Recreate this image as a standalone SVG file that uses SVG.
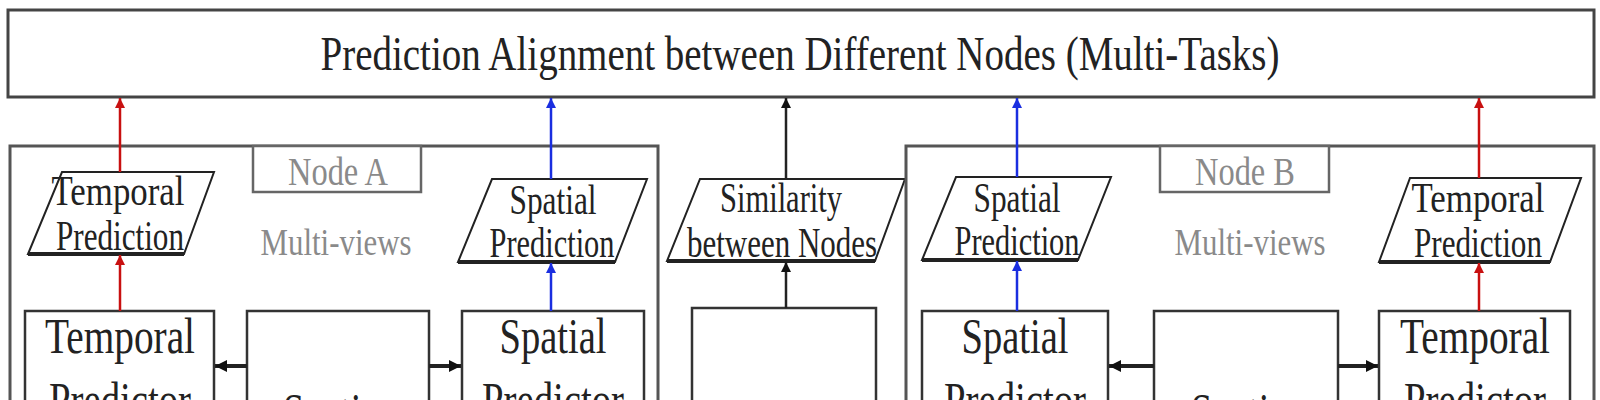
<svg xmlns="http://www.w3.org/2000/svg" width="1600" height="400" viewBox="0 0 1600 400">
<style>
text{font-family:"Liberation Serif","Times New Roman",serif;fill:#222}
.box{fill:#fff;stroke:#333;stroke-width:2.5}
.cont{fill:#fff;stroke:#555;stroke-width:3}
.lbl{fill:#fff;stroke:#666;stroke-width:2.5}
.para{fill:#fff;stroke:#222;stroke-width:2}
.gray{fill:#8a8a8a}
.big{font-size:50px}
.mid{font-size:42px}
.red{stroke:#c81010;stroke-width:2.5;fill:none}
.blue{stroke:#1a2ee0;stroke-width:2.5;fill:none}
.blk{stroke:#222;stroke-width:2.5;fill:none}
.blkt{stroke:#222;stroke-width:4;fill:none}
</style>
<defs>
<marker id="ar" viewBox="0 0 10 10" refX="10" refY="5" markerWidth="4" markerHeight="5" orient="auto" markerUnits="strokeWidth"><path d="M0,0L10,5L0,10z" fill="#c81010"/></marker>
<marker id="ab" viewBox="0 0 10 10" refX="10" refY="5" markerWidth="4" markerHeight="5" orient="auto" markerUnits="strokeWidth"><path d="M0,0L10,5L0,10z" fill="#1a2ee0"/></marker>
<marker id="ak" viewBox="0 0 10 10" refX="10" refY="5" markerWidth="4" markerHeight="5" orient="auto" markerUnits="strokeWidth"><path d="M0,0L10,5L0,10z" fill="#111"/></marker>
<marker id="akt" viewBox="0 0 10 10" refX="10" refY="5" markerWidth="3" markerHeight="4" orient="auto" markerUnits="strokeWidth"><path d="M0,0L10,5L0,10z" fill="#111"/></marker>
</defs>
<rect width="1600" height="400" fill="#fff"/>

<g id="top">
<rect class="box" x="8" y="10" width="1586" height="87" style="stroke:#444;stroke-width:3"/>
<text x="800" y="70" font-size="48" text-anchor="middle" textLength="959" lengthAdjust="spacingAndGlyphs">Prediction Alignment between Different Nodes (Multi-Tasks)</text>
</g>

<g id="nodeA">
<rect class="cont" x="10" y="146" width="648" height="270"/>
<rect class="lbl" x="253" y="146" width="168" height="46"/>
<text class="gray" x="338" y="185" font-size="40" text-anchor="middle" textLength="100" lengthAdjust="spacingAndGlyphs">Node A</text>
<text class="gray" x="336" y="255" font-size="38" text-anchor="middle" textLength="151" lengthAdjust="spacingAndGlyphs">Multi-views</text>
</g>

<g id="tempPredA">
<polygon class="para" points="62,172 214,172 184,254 28,254"/>
<path d="M28,254H184" stroke="#222" stroke-width="4"/>
<text class="mid" x="118" y="205" text-anchor="middle" textLength="133" lengthAdjust="spacingAndGlyphs">Temporal</text>
<text class="mid" x="120" y="250" text-anchor="middle" textLength="128" lengthAdjust="spacingAndGlyphs">Prediction</text>
</g>

<g id="spatPredA">
<polygon class="para" points="492,179 647,179 615,262 458,262"/>
<path d="M458,262H615" stroke="#222" stroke-width="4"/>
<text class="mid" x="553" y="214" text-anchor="middle" textLength="87" lengthAdjust="spacingAndGlyphs">Spatial</text>
<text class="mid" x="552" y="257" text-anchor="middle" textLength="125" lengthAdjust="spacingAndGlyphs">Prediction</text>
</g>

<g id="tempPredictorA">
<rect class="box" x="25" y="311" width="189" height="110"/>
<text class="big" x="120" y="353" text-anchor="middle" textLength="150" lengthAdjust="spacingAndGlyphs">Temporal</text>
<text class="big" x="120" y="417" text-anchor="middle" textLength="142" lengthAdjust="spacingAndGlyphs">Predictor</text>
</g>

<g id="spatioA">
<rect class="box" x="247" y="311" width="182" height="110"/>
<text class="big" x="338" y="428" text-anchor="middle" textLength="110" lengthAdjust="spacingAndGlyphs">Spatio-</text>
</g>

<g id="spatPredictorA">
<rect class="box" x="462" y="311" width="182" height="110"/>
<text class="big" x="553" y="353" text-anchor="middle" textLength="107" lengthAdjust="spacingAndGlyphs">Spatial</text>
<text class="big" x="553" y="417" text-anchor="middle" textLength="142" lengthAdjust="spacingAndGlyphs">Predictor</text>
</g>

<g id="similarity">
<polygon class="para" points="700,179 905,179 875,261 667,261"/>
<path d="M667,261H875" stroke="#222" stroke-width="4"/>
<text class="mid" x="781" y="212" text-anchor="middle" textLength="122" lengthAdjust="spacingAndGlyphs">Similarity</text>
<text class="mid" x="782" y="257" text-anchor="middle" textLength="190" lengthAdjust="spacingAndGlyphs">between Nodes</text>
</g>

<g id="simBox">
<rect class="box" x="692" y="308" width="184" height="110"/>
</g>

<g id="nodeB">
<rect class="cont" x="906" y="146" width="688" height="270"/>
<rect class="lbl" x="1160" y="146" width="169" height="46"/>
<text class="gray" x="1245" y="185" font-size="40" text-anchor="middle" textLength="100" lengthAdjust="spacingAndGlyphs">Node B</text>
<text class="gray" x="1250" y="255" font-size="38" text-anchor="middle" textLength="151" lengthAdjust="spacingAndGlyphs">Multi-views</text>
</g>

<g id="spatPredB">
<polygon class="para" points="956,177 1111,177 1078,260 922,260"/>
<path d="M922,260H1078" stroke="#222" stroke-width="4"/>
<text class="mid" x="1017" y="212" text-anchor="middle" textLength="87" lengthAdjust="spacingAndGlyphs">Spatial</text>
<text class="mid" x="1017" y="255" text-anchor="middle" textLength="125" lengthAdjust="spacingAndGlyphs">Prediction</text>
</g>

<g id="tempPredB">
<polygon class="para" points="1410,178 1581,178 1550,262 1379,262"/>
<path d="M1379,262H1550" stroke="#222" stroke-width="4"/>
<text class="mid" x="1478" y="212" text-anchor="middle" textLength="133" lengthAdjust="spacingAndGlyphs">Temporal</text>
<text class="mid" x="1478" y="257" text-anchor="middle" textLength="128" lengthAdjust="spacingAndGlyphs">Prediction</text>
</g>

<g id="spatPredictorB">
<rect class="box" x="922" y="311" width="186" height="110"/>
<text class="big" x="1015" y="353" text-anchor="middle" textLength="107" lengthAdjust="spacingAndGlyphs">Spatial</text>
<text class="big" x="1015" y="417" text-anchor="middle" textLength="142" lengthAdjust="spacingAndGlyphs">Predictor</text>
</g>

<g id="spatioB">
<rect class="box" x="1154" y="311" width="184" height="110"/>
<text class="big" x="1246" y="428" text-anchor="middle" textLength="110" lengthAdjust="spacingAndGlyphs">Spatio-</text>
</g>

<g id="tempPredictorB">
<rect class="box" x="1379" y="311" width="191" height="110"/>
<text class="big" x="1475" y="353" text-anchor="middle" textLength="150" lengthAdjust="spacingAndGlyphs">Temporal</text>
<text class="big" x="1475" y="417" text-anchor="middle" textLength="142" lengthAdjust="spacingAndGlyphs">Predictor</text>
</g>

<g id="connectors">
<path class="red" d="M120,172V98" marker-end="url(#ar)"/>
<path class="red" d="M120,311V255" marker-end="url(#ar)"/>
<path class="blue" d="M551,179V98" marker-end="url(#ab)"/>
<path class="blue" d="M551,311V263" marker-end="url(#ab)"/>
<path class="blk" d="M786,179V98" marker-end="url(#ak)"/>
<path class="blk" d="M786,308V262" marker-end="url(#ak)"/>
<path class="blue" d="M1017,177V98" marker-end="url(#ab)"/>
<path class="blue" d="M1017,311V261" marker-end="url(#ab)"/>
<path class="red" d="M1479,178V98" marker-end="url(#ar)"/>
<path class="red" d="M1479,311V263" marker-end="url(#ar)"/>
<path class="blkt" d="M247,366H215" marker-end="url(#akt)"/>
<path class="blkt" d="M429,366H461" marker-end="url(#akt)"/>
<path class="blkt" d="M1154,366H1109" marker-end="url(#akt)"/>
<path class="blkt" d="M1338,366H1378" marker-end="url(#akt)"/>
</g>
</svg>
